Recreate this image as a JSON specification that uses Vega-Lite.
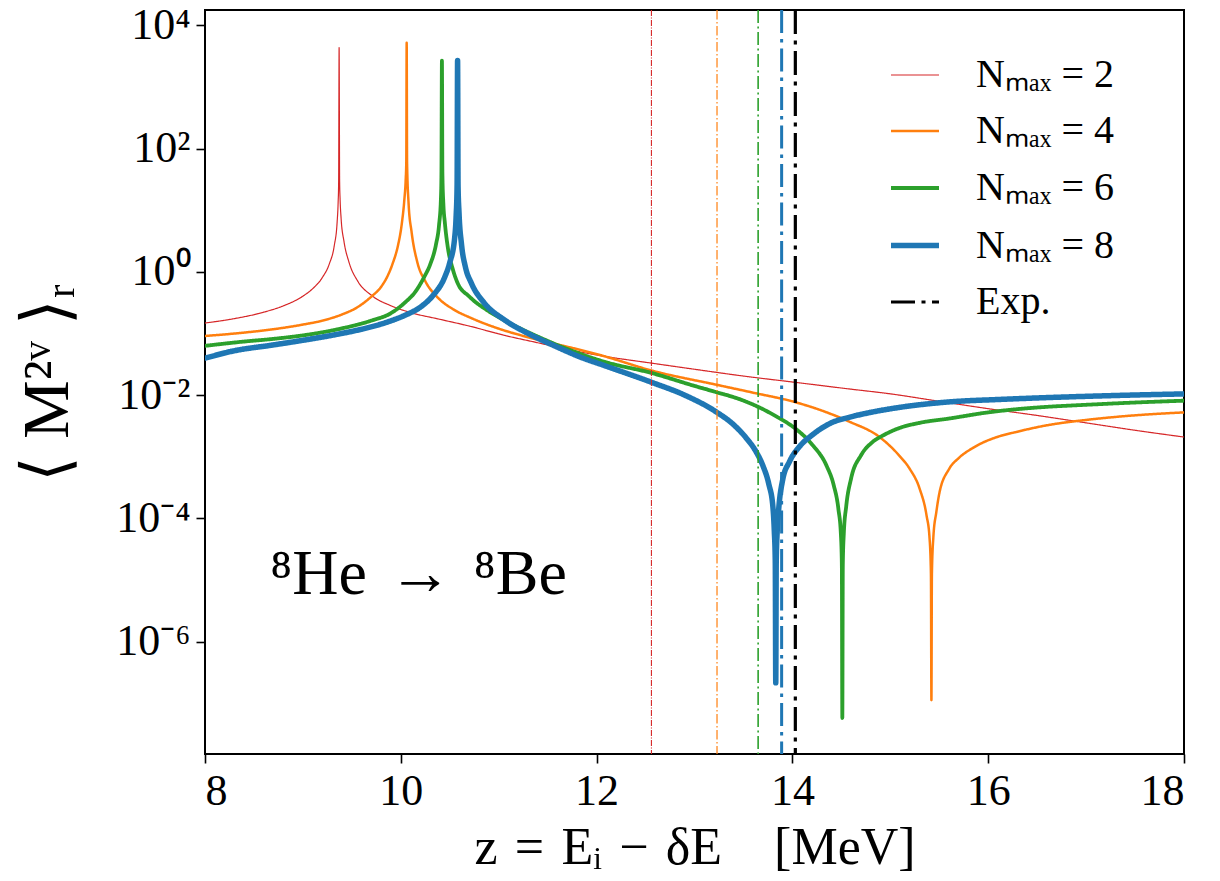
{
  "$schema": "https://vega.github.io/schema/vega-lite/v6.json",
  "width": 979,
  "height": 744,
  "autosize": {"type": "none"},
  "padding": {"left": 205, "top": 10, "right": 36, "bottom": 127},
  "background": "white",
  "config": {
    "view": {"stroke": "black", "strokeWidth": 2},
    "font": "Liberation Serif",
    "axis": {"grid": false, "domain": false, "tickColor": "black", "tickWidth": 1.6, "tickSize": 9, "labelColor": "black", "titleColor": "black", "titleFontWeight": "normal", "labelFont": "Liberation Serif", "titleFont": "Liberation Serif"}
  },
  "datasets": {
    "curves": [
      {"series": "Nₘₐₓ = 2", "z": 8.0, "M": 0.148},
      {"series": "Nₘₐₓ = 2", "z": 8.3, "M": 0.1745},
      {"series": "Nₘₐₓ = 2", "z": 8.6, "M": 0.222},
      {"series": "Nₘₐₓ = 2", "z": 8.8, "M": 0.281},
      {"series": "Nₘₐₓ = 2", "z": 9.0, "M": 0.404},
      {"series": "Nₘₐₓ = 2", "z": 9.1, "M": 0.534},
      {"series": "Nₘₐₓ = 2", "z": 9.2, "M": 0.818},
      {"series": "Nₘₐₓ = 2", "z": 9.27, "M": 1.35},
      {"series": "Nₘₐₓ = 2", "z": 9.32, "M": 2.65},
      {"series": "Nₘₐₓ = 2", "z": 9.35, "M": 6.55},
      {"series": "Nₘₐₓ = 2", "z": 9.36, "M": 13.5},
      {"series": "Nₘₐₓ = 2", "z": 9.365, "M": 28},
      {"series": "Nₘₐₓ = 2", "z": 9.37, "M": 4365},
      {"series": "Nₘₐₓ = 2", "z": 9.375, "M": 30},
      {"series": "Nₘₐₓ = 2", "z": 9.38, "M": 15},
      {"series": "Nₘₐₓ = 2", "z": 9.39, "M": 7.5},
      {"series": "Nₘₐₓ = 2", "z": 9.42, "M": 3.1},
      {"series": "Nₘₐₓ = 2", "z": 9.47, "M": 1.45},
      {"series": "Nₘₐₓ = 2", "z": 9.56, "M": 0.708},
      {"series": "Nₘₐₓ = 2", "z": 9.7, "M": 0.417},
      {"series": "Nₘₐₓ = 2", "z": 9.9, "M": 0.282},
      {"series": "Nₘₐₓ = 2", "z": 10.1, "M": 0.219},
      {"series": "Nₘₐₓ = 2", "z": 10.4, "M": 0.17},
      {"series": "Nₘₐₓ = 2", "z": 10.7, "M": 0.132},
      {"series": "Nₘₐₓ = 2", "z": 11.06, "M": 0.0933},
      {"series": "Nₘₐₓ = 2", "z": 11.4, "M": 0.0708},
      {"series": "Nₘₐₓ = 2", "z": 11.74, "M": 0.0537},
      {"series": "Nₘₐₓ = 2", "z": 12.08, "M": 0.0427},
      {"series": "Nₘₐₓ = 2", "z": 12.56, "M": 0.0331},
      {"series": "Nₘₐₓ = 2", "z": 13.0, "M": 0.0263},
      {"series": "Nₘₐₓ = 2", "z": 13.5, "M": 0.0204},
      {"series": "Nₘₐₓ = 2", "z": 14.02, "M": 0.0162},
      {"series": "Nₘₐₓ = 2", "z": 14.58, "M": 0.0126},
      {"series": "Nₘₐₓ = 2", "z": 15.0, "M": 0.0105},
      {"series": "Nₘₐₓ = 2", "z": 15.5, "M": 0.00794},
      {"series": "Nₘₐₓ = 2", "z": 16.0, "M": 0.00603},
      {"series": "Nₘₐₓ = 2", "z": 16.5, "M": 0.00468},
      {"series": "Nₘₐₓ = 2", "z": 17.0, "M": 0.00355},
      {"series": "Nₘₐₓ = 2", "z": 17.5, "M": 0.00269},
      {"series": "Nₘₐₓ = 2", "z": 18.0, "M": 0.00209},

      {"series": "Nₘₐₓ = 4", "z": 8.0, "M": 0.0912},
      {"series": "Nₘₐₓ = 4", "z": 8.4, "M": 0.1035},
      {"series": "Nₘₐₓ = 4", "z": 8.7, "M": 0.1175},
      {"series": "Nₘₐₓ = 4", "z": 9.0, "M": 0.1396},
      {"series": "Nₘₐₓ = 4", "z": 9.2, "M": 0.162},
      {"series": "Nₘₐₓ = 4", "z": 9.4, "M": 0.204},
      {"series": "Nₘₐₓ = 4", "z": 9.55, "M": 0.263},
      {"series": "Nₘₐₓ = 4", "z": 9.7, "M": 0.398},
      {"series": "Nₘₐₓ = 4", "z": 9.8, "M": 0.575},
      {"series": "Nₘₐₓ = 4", "z": 9.87, "M": 0.891},
      {"series": "Nₘₐₓ = 4", "z": 9.92, "M": 1.41},
      {"series": "Nₘₐₓ = 4", "z": 9.97, "M": 2.63},
      {"series": "Nₘₐₓ = 4", "z": 10.01, "M": 6.03},
      {"series": "Nₘₐₓ = 4", "z": 10.035, "M": 14.1},
      {"series": "Nₘₐₓ = 4", "z": 10.05, "M": 31.6},
      {"series": "Nₘₐₓ = 4", "z": 10.056, "M": 60},
      {"series": "Nₘₐₓ = 4", "z": 10.06, "M": 5248},
      {"series": "Nₘₐₓ = 4", "z": 10.064, "M": 60},
      {"series": "Nₘₐₓ = 4", "z": 10.08, "M": 12.6},
      {"series": "Nₘₐₓ = 4", "z": 10.11, "M": 4.47},
      {"series": "Nₘₐₓ = 4", "z": 10.17, "M": 1.41},
      {"series": "Nₘₐₓ = 4", "z": 10.25, "M": 0.708},
      {"series": "Nₘₐₓ = 4", "z": 10.38, "M": 0.38},
      {"series": "Nₘₐₓ = 4", "z": 10.55, "M": 0.24},
      {"series": "Nₘₐₓ = 4", "z": 10.72, "M": 0.178},
      {"series": "Nₘₐₓ = 4", "z": 11.0, "M": 0.12},
      {"series": "Nₘₐₓ = 4", "z": 11.23, "M": 0.0933},
      {"series": "Nₘₐₓ = 4", "z": 11.5, "M": 0.0724},
      {"series": "Nₘₐₓ = 4", "z": 11.74, "M": 0.0589},
      {"series": "Nₘₐₓ = 4", "z": 12.08, "M": 0.0427},
      {"series": "Nₘₐₓ = 4", "z": 12.56, "M": 0.0251},
      {"series": "Nₘₐₓ = 4", "z": 13.22, "M": 0.0148},
      {"series": "Nₘₐₓ = 4", "z": 13.6, "M": 0.01096},
      {"series": "Nₘₐₓ = 4", "z": 14.02, "M": 0.00776},
      {"series": "Nₘₐₓ = 4", "z": 14.3, "M": 0.00562},
      {"series": "Nₘₐₓ = 4", "z": 14.58, "M": 0.00372},
      {"series": "Nₘₐₓ = 4", "z": 14.89, "M": 0.00209},
      {"series": "Nₘₐₓ = 4", "z": 15.09, "M": 0.00105},
      {"series": "Nₘₐₓ = 4", "z": 15.2, "M": 0.000631},
      {"series": "Nₘₐₓ = 4", "z": 15.3, "M": 0.000302},
      {"series": "Nₘₐₓ = 4", "z": 15.37, "M": 0.000112},
      {"series": "Nₘₐₓ = 4", "z": 15.4, "M": 0.0000501},
      {"series": "Nₘₐₓ = 4", "z": 15.415, "M": 0.0000126},
      {"series": "Nₘₐₓ = 4", "z": 15.42, "M": 1.12e-7},
      {"series": "Nₘₐₓ = 4", "z": 15.425, "M": 0.0000126},
      {"series": "Nₘₐₓ = 4", "z": 15.44, "M": 0.0000501},
      {"series": "Nₘₐₓ = 4", "z": 15.47, "M": 0.000126},
      {"series": "Nₘₐₓ = 4", "z": 15.5, "M": 0.000251},
      {"series": "Nₘₐₓ = 4", "z": 15.6, "M": 0.000631},
      {"series": "Nₘₐₓ = 4", "z": 15.7, "M": 0.000955},
      {"series": "Nₘₐₓ = 4", "z": 15.85, "M": 0.00141},
      {"series": "Nₘₐₓ = 4", "z": 16.11, "M": 0.00214},
      {"series": "Nₘₐₓ = 4", "z": 16.28, "M": 0.00251},
      {"series": "Nₘₐₓ = 4", "z": 16.6, "M": 0.00324},
      {"series": "Nₘₐₓ = 4", "z": 16.96, "M": 0.00389},
      {"series": "Nₘₐₓ = 4", "z": 17.4, "M": 0.00457},
      {"series": "Nₘₐₓ = 4", "z": 18.0, "M": 0.00525},

      {"series": "Nₘₐₓ = 6", "z": 8.0, "M": 0.0631},
      {"series": "Nₘₐₓ = 6", "z": 8.4, "M": 0.0741},
      {"series": "Nₘₐₓ = 6", "z": 8.68, "M": 0.0813},
      {"series": "Nₘₐₓ = 6", "z": 9.0, "M": 0.0933},
      {"series": "Nₘₐₓ = 6", "z": 9.36, "M": 0.1175},
      {"series": "Nₘₐₓ = 6", "z": 9.7, "M": 0.162},
      {"series": "Nₘₐₓ = 6", "z": 9.9, "M": 0.214},
      {"series": "Nₘₐₓ = 6", "z": 10.04, "M": 0.316},
      {"series": "Nₘₐₓ = 6", "z": 10.15, "M": 0.479},
      {"series": "Nₘₐₓ = 6", "z": 10.24, "M": 0.832},
      {"series": "Nₘₐₓ = 6", "z": 10.3, "M": 1.32},
      {"series": "Nₘₐₓ = 6", "z": 10.36, "M": 2.82},
      {"series": "Nₘₐₓ = 6", "z": 10.39, "M": 5.62},
      {"series": "Nₘₐₓ = 6", "z": 10.41, "M": 15.8},
      {"series": "Nₘₐₓ = 6", "z": 10.415, "M": 39.8},
      {"series": "Nₘₐₓ = 6", "z": 10.42, "M": 2692},
      {"series": "Nₘₐₓ = 6", "z": 10.425, "M": 39.8},
      {"series": "Nₘₐₓ = 6", "z": 10.435, "M": 12.6},
      {"series": "Nₘₐₓ = 6", "z": 10.45, "M": 6.31},
      {"series": "Nₘₐₓ = 6", "z": 10.48, "M": 2.51},
      {"series": "Nₘₐₓ = 6", "z": 10.53, "M": 1.12},
      {"series": "Nₘₐₓ = 6", "z": 10.58, "M": 0.661},
      {"series": "Nₘₐₓ = 6", "z": 10.7, "M": 0.398},
      {"series": "Nₘₐₓ = 6", "z": 10.89, "M": 0.234},
      {"series": "Nₘₐₓ = 6", "z": 11.1, "M": 0.151},
      {"series": "Nₘₐₓ = 6", "z": 11.4, "M": 0.0891},
      {"series": "Nₘₐₓ = 6", "z": 11.7, "M": 0.0562},
      {"series": "Nₘₐₓ = 6", "z": 12.08, "M": 0.0347},
      {"series": "Nₘₐₓ = 6", "z": 12.56, "M": 0.0229},
      {"series": "Nₘₐₓ = 6", "z": 13.0, "M": 0.0141},
      {"series": "Nₘₐₓ = 6", "z": 13.22, "M": 0.0112},
      {"series": "Nₘₐₓ = 6", "z": 13.45, "M": 0.00871},
      {"series": "Nₘₐₓ = 6", "z": 13.65, "M": 0.00646},
      {"series": "Nₘₐₓ = 6", "z": 13.85, "M": 0.00437},
      {"series": "Nₘₐₓ = 6", "z": 14.02, "M": 0.00295},
      {"series": "Nₘₐₓ = 6", "z": 14.2, "M": 0.001585},
      {"series": "Nₘₐₓ = 6", "z": 14.35, "M": 0.000708},
      {"series": "Nₘₐₓ = 6", "z": 14.42, "M": 0.000355},
      {"series": "Nₘₐₓ = 6", "z": 14.47, "M": 0.000141},
      {"series": "Nₘₐₓ = 6", "z": 14.495, "M": 0.0000562},
      {"series": "Nₘₐₓ = 6", "z": 14.505, "M": 0.0000178},
      {"series": "Nₘₐₓ = 6", "z": 14.51, "M": 5.75e-8},
      {"series": "Nₘₐₓ = 6", "z": 14.515, "M": 0.0000178},
      {"series": "Nₘₐₓ = 6", "z": 14.525, "M": 0.0000562},
      {"series": "Nₘₐₓ = 6", "z": 14.55, "M": 0.0001585},
      {"series": "Nₘₐₓ = 6", "z": 14.6, "M": 0.000447},
      {"series": "Nₘₐₓ = 6", "z": 14.7, "M": 0.00105},
      {"series": "Nₘₐₓ = 6", "z": 14.82, "M": 0.00174},
      {"series": "Nₘₐₓ = 6", "z": 14.92, "M": 0.00219},
      {"series": "Nₘₐₓ = 6", "z": 15.1, "M": 0.00295},
      {"series": "Nₘₐₓ = 6", "z": 15.3, "M": 0.00355},
      {"series": "Nₘₐₓ = 6", "z": 15.6, "M": 0.00417},
      {"series": "Nₘₐₓ = 6", "z": 16.0, "M": 0.00525},
      {"series": "Nₘₐₓ = 6", "z": 16.28, "M": 0.00589},
      {"series": "Nₘₐₓ = 6", "z": 16.6, "M": 0.00646},
      {"series": "Nₘₐₓ = 6", "z": 16.96, "M": 0.00692},
      {"series": "Nₘₐₓ = 6", "z": 17.5, "M": 0.00759},
      {"series": "Nₘₐₓ = 6", "z": 18.0, "M": 0.00813},

      {"series": "Nₘₐₓ = 8", "z": 8.0, "M": 0.0398},
      {"series": "Nₘₐₓ = 8", "z": 8.3, "M": 0.0525},
      {"series": "Nₘₐₓ = 8", "z": 8.68, "M": 0.0646},
      {"series": "Nₘₐₓ = 8", "z": 9.0, "M": 0.0776},
      {"series": "Nₘₐₓ = 8", "z": 9.36, "M": 0.0977},
      {"series": "Nₘₐₓ = 8", "z": 9.6, "M": 0.1175},
      {"series": "Nₘₐₓ = 8", "z": 9.87, "M": 0.155},
      {"series": "Nₘₐₓ = 8", "z": 10.05, "M": 0.2},
      {"series": "Nₘₐₓ = 8", "z": 10.21, "M": 0.275},
      {"series": "Nₘₐₓ = 8", "z": 10.33, "M": 0.417},
      {"series": "Nₘₐₓ = 8", "z": 10.45, "M": 0.832},
      {"series": "Nₘₐₓ = 8", "z": 10.5, "M": 1.41},
      {"series": "Nₘₐₓ = 8", "z": 10.55, "M": 3.55},
      {"series": "Nₘₐₓ = 8", "z": 10.565, "M": 7.94},
      {"series": "Nₘₐₓ = 8", "z": 10.575, "M": 25.1},
      {"series": "Nₘₐₓ = 8", "z": 10.58, "M": 2692},
      {"series": "Nₘₐₓ = 8", "z": 10.585, "M": 25.1},
      {"series": "Nₘₐₓ = 8", "z": 10.595, "M": 8.91},
      {"series": "Nₘₐₓ = 8", "z": 10.62, "M": 2.82},
      {"series": "Nₘₐₓ = 8", "z": 10.66, "M": 1.2},
      {"series": "Nₘₐₓ = 8", "z": 10.72, "M": 0.661},
      {"series": "Nₘₐₓ = 8", "z": 10.85, "M": 0.316},
      {"series": "Nₘₐₓ = 8", "z": 11.06, "M": 0.166},
      {"series": "Nₘₐₓ = 8", "z": 11.3, "M": 0.1},
      {"series": "Nₘₐₓ = 8", "z": 11.57, "M": 0.0631},
      {"series": "Nₘₐₓ = 8", "z": 11.83, "M": 0.0417},
      {"series": "Nₘₐₓ = 8", "z": 12.08, "M": 0.0302},
      {"series": "Nₘₐₓ = 8", "z": 12.56, "M": 0.0162},
      {"series": "Nₘₐₓ = 8", "z": 12.9, "M": 0.01},
      {"series": "Nₘₐₓ = 8", "z": 13.22, "M": 0.00537},
      {"series": "Nₘₐₓ = 8", "z": 13.4, "M": 0.00331},
      {"series": "Nₘₐₓ = 8", "z": 13.53, "M": 0.002},
      {"series": "Nₘₐₓ = 8", "z": 13.63, "M": 0.0012},
      {"series": "Nₘₐₓ = 8", "z": 13.7, "M": 0.000708},
      {"series": "Nₘₐₓ = 8", "z": 13.76, "M": 0.000355},
      {"series": "Nₘₐₓ = 8", "z": 13.8, "M": 0.0001585},
      {"series": "Nₘₐₓ = 8", "z": 13.815, "M": 0.0000631},
      {"series": "Nₘₐₓ = 8", "z": 13.825, "M": 0.00002},
      {"series": "Nₘₐₓ = 8", "z": 13.83, "M": 2.14e-7},
      {"series": "Nₘₐₓ = 8", "z": 13.835, "M": 0.00002},
      {"series": "Nₘₐₓ = 8", "z": 13.845, "M": 0.0000631},
      {"series": "Nₘₐₓ = 8", "z": 13.86, "M": 0.000141},
      {"series": "Nₘₐₓ = 8", "z": 13.9, "M": 0.000417},
      {"series": "Nₘₐₓ = 8", "z": 13.97, "M": 0.000832},
      {"series": "Nₘₐₓ = 8", "z": 14.07, "M": 0.00145},
      {"series": "Nₘₐₓ = 8", "z": 14.2, "M": 0.00224},
      {"series": "Nₘₐₓ = 8", "z": 14.41, "M": 0.00363},
      {"series": "Nₘₐₓ = 8", "z": 14.58, "M": 0.00437},
      {"series": "Nₘₐₓ = 8", "z": 14.8, "M": 0.00525},
      {"series": "Nₘₐₓ = 8", "z": 15.09, "M": 0.00631},
      {"series": "Nₘₐₓ = 8", "z": 15.6, "M": 0.00776},
      {"series": "Nₘₐₓ = 8", "z": 16.11, "M": 0.00851},
      {"series": "Nₘₐₓ = 8", "z": 16.6, "M": 0.00912},
      {"series": "Nₘₐₓ = 8", "z": 17.2, "M": 0.00977},
      {"series": "Nₘₐₓ = 8", "z": 18.0, "M": 0.01047}
    ],
    "refs": [
      {"series": "ref2", "z": 12.56},
      {"series": "ref4", "z": 13.23},
      {"series": "ref6", "z": 13.65},
      {"series": "ref8", "z": 13.89},
      {"series": "Exp.", "z": 14.03}
    ],
    "notes": [
      {"label": "⁸He\u2004→\u2004⁸Be", "z": 10.18, "M": 0.000012}
    ]
  },
  "layer": [
    {
      "data": {"name": "curves"},
      "mark": {"type": "line", "strokeCap": "round", "strokeJoin": "round", "clip": true, "interpolate": "monotone"},
      "encoding": {
        "x": {"field": "z", "type": "quantitative", "scale": {"domain": [8, 18], "nice": false, "zero": false},
          "axis": {"values": [8, 10, 12, 14, 16, 18], "format": "d", "title": "z\u2004=\u2004Eᵢ\u2004−\u2004δE\u2003[MeV]", "labelFontSize": 44, "titleFontSize": 52, "labelPadding": 6, "titlePadding": 9}},
        "y": {"field": "M", "type": "quantitative", "scale": {"type": "log", "domain": [1.5e-8, 17800], "nice": false},
          "axis": {"values": [0.000001, 0.0001, 0.01, 1, 100, 10000], "labelFontSize": 44, "labelPadding": 6, "title": "⟨\u2005M²ᵛ\u2005⟩ᵣ", "titleFontSize": 66, "titlePadding": 34,
            "labelExpr": "'10' + (round(log(datum.value)/LN10) == 4 ? '⁴' : round(log(datum.value)/LN10) == 2 ? '²' : round(log(datum.value)/LN10) == 0 ? '⁰' : round(log(datum.value)/LN10) == -2 ? '⁻²' : round(log(datum.value)/LN10) == -4 ? '⁻⁴' : '⁻⁶')"}},
        "color": {"field": "series", "type": "nominal",
          "scale": {"domain": ["Nₘₐₓ = 2", "Nₘₐₓ = 4", "Nₘₐₓ = 6", "Nₘₐₓ = 8", "Exp.", "ref2", "ref4", "ref6", "ref8"],
                    "range": ["#d62728", "#ff7f0e", "#2ca02c", "#1f77b4", "#000000", "#d62728", "#ff7f0e", "#2ca02c", "#1f77b4"]},
          "legend": {"title": null, "orient": "none", "legendX": 683, "legendY": 40, "values": ["Nₘₐₓ = 2", "Nₘₐₓ = 4", "Nₘₐₓ = 6", "Nₘₐₓ = 8", "Exp."], "symbolType": "stroke", "symbolSize": 2304, "labelFontSize": 40, "labelFont": "Liberation Serif", "labelColor": "black", "labelOffset": 34, "rowPadding": 10.5, "padding": 0,
            "encode": {"symbols": {"update": {
              "strokeWidth": {"signal": "datum.value === 'Nₘₐₓ = 2' ? 1.2 : datum.value === 'Nₘₐₓ = 4' ? 2.5 : datum.value === 'Nₘₐₓ = 6' ? 3.8 : datum.value === 'Nₘₐₓ = 8' ? 5.5 : 3.2"},
              "strokeDash": {"signal": "datum.value === 'Exp.' ? [20, 5, 3.5, 5] : [1, 0]"}}}}}},
        "strokeWidth": {"field": "series", "type": "nominal", "legend": null,
          "scale": {"type": "ordinal", "domain": ["Nₘₐₓ = 2", "Nₘₐₓ = 4", "Nₘₐₓ = 6", "Nₘₐₓ = 8", "Exp.", "ref2", "ref4", "ref6", "ref8"],
                    "range": [1.2, 2.5, 3.8, 5.5, 3.2, 1.1, 1.2, 1.6, 3.0]}},
        "strokeDash": {"field": "series", "type": "nominal", "legend": null,
          "scale": {"domain": ["Nₘₐₓ = 2", "Nₘₐₓ = 4", "Nₘₐₓ = 6", "Nₘₐₓ = 8", "Exp.", "ref2", "ref4", "ref6", "ref8"],
                    "range": [[1, 0], [1, 0], [1, 0], [1, 0], [24, 6.5, 4, 6.5], [6, 1.5, 1, 1.5], [9.5, 2.5, 1.5, 2.5], [13, 3.5, 2, 3.5], [23, 6, 3.5, 6]]}}
      }
    },
    {
      "data": {"name": "refs"},
      "mark": {"type": "rule", "clip": true},
      "encoding": {
        "x": {"field": "z", "type": "quantitative"},
        "color": {"field": "series", "type": "nominal", "legend": null,
          "scale": {"domain": ["Nₘₐₓ = 2", "Nₘₐₓ = 4", "Nₘₐₓ = 6", "Nₘₐₓ = 8", "Exp.", "ref2", "ref4", "ref6", "ref8"],
                    "range": ["#d62728", "#ff7f0e", "#2ca02c", "#1f77b4", "#000000", "#d62728", "#ff7f0e", "#2ca02c", "#1f77b4"]}},
        "strokeWidth": {"field": "series", "type": "nominal", "legend": null,
          "scale": {"type": "ordinal", "domain": ["Nₘₐₓ = 2", "Nₘₐₓ = 4", "Nₘₐₓ = 6", "Nₘₐₓ = 8", "Exp.", "ref2", "ref4", "ref6", "ref8"],
                    "range": [1.2, 2.5, 3.8, 5.5, 3.2, 1.1, 1.2, 1.6, 3.0]}},
        "strokeDash": {"field": "series", "type": "nominal", "legend": null,
          "scale": {"domain": ["Nₘₐₓ = 2", "Nₘₐₓ = 4", "Nₘₐₓ = 6", "Nₘₐₓ = 8", "Exp.", "ref2", "ref4", "ref6", "ref8"],
                    "range": [[1, 0], [1, 0], [1, 0], [1, 0], [24, 6.5, 4, 6.5], [6, 1.5, 1, 1.5], [9.5, 2.5, 1.5, 2.5], [13, 3.5, 2, 3.5], [23, 6, 3.5, 6]]}}
      }
    },
    {
      "data": {"name": "notes"},
      "mark": {"type": "text", "fontSize": 64, "font": "Liberation Serif", "align": "center", "baseline": "middle", "color": "black"},
      "encoding": {
        "x": {"field": "z", "type": "quantitative"},
        "y": {"field": "M", "type": "quantitative"},
        "text": {"field": "label", "type": "nominal"}
      }
    }
  ]
}
